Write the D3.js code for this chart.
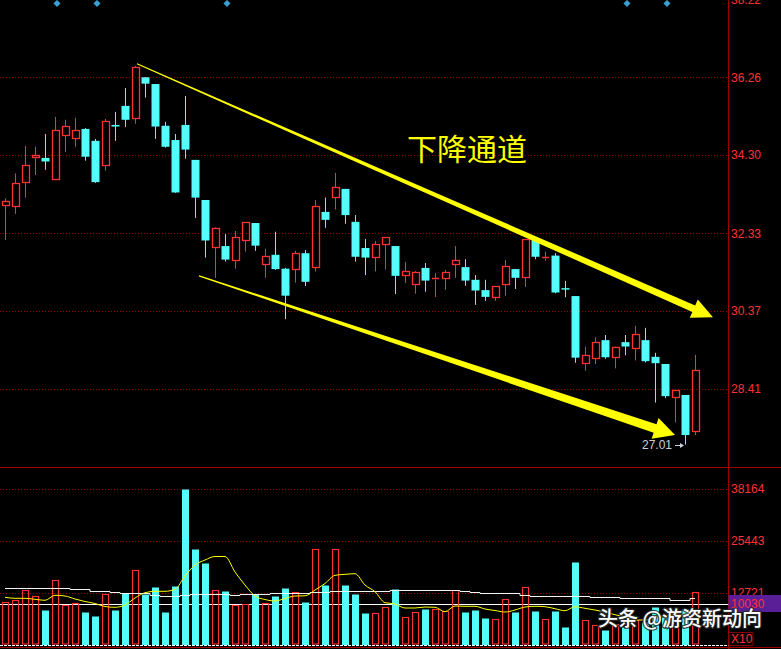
<!DOCTYPE html>
<html><head><meta charset="utf-8">
<script src="https://cdn.jsdelivr.net/npm/d3@7/dist/d3.min.js"></script>
<style>
html,body{margin:0;padding:0;background:#000;overflow:hidden;}
svg{display:block;}
</style></head>
<body><svg id="c" width="781" height="649"></svg>
<script>
// ---- data ----
const open  = [33.05,33.03,33.63,34.25,34.23,33.71,34.80,34.74,34.96,34.66,34.06,35.06,35.54,35.23,36.26,36.09,35.04,34.68,35.06,34.18,
               33.17,31.98,32.01,31.65,32.16,32.59,31.55,31.79,31.44,31.44,31.83,31.49,32.87,33.24,33.45,32.62,31.96,31.73,32.05,32.01,
               31.27,31.05,31.46,31.18,31.20,31.55,31.48,31.16,30.90,30.72,31.05,31.43,31.22,32.16,31.70,31.77,30.95,30.75,29.07,29.20,
               29.64,29.22,29.59,29.44,29.64,29.22,29.04,28.20,28.26,27.36];
const high  = [33.21,33.84,34.53,34.51,34.83,35.26,35.19,35.24,34.98,34.71,35.21,35.39,35.99,36.55,36.26,36.09,35.14,34.83,35.79,34.18,
               33.17,32.48,32.31,32.39,32.61,32.59,31.94,32.37,31.46,31.89,31.91,33.17,33.23,33.85,33.45,32.79,32.19,32.14,32.23,32.01,
               31.61,31.38,31.58,31.33,31.41,32.01,31.68,31.28,31.16,31.00,31.66,31.43,32.18,32.21,31.87,31.83,31.13,30.75,29.47,29.71,
               29.77,29.48,29.77,30.00,29.95,29.32,29.04,28.38,28.26,29.27];
const low   = [32.16,32.82,33.23,33.80,33.93,33.69,34.38,34.51,34.16,33.60,33.91,34.66,35.01,35.09,35.75,34.71,34.49,33.35,34.21,32.72,
               31.72,31.21,31.62,31.44,31.87,31.89,31.21,31.41,30.17,31.09,31.00,31.37,32.47,32.93,32.57,31.62,31.28,31.37,31.42,30.80,
               31.08,30.81,30.86,30.73,30.91,31.21,31.01,30.53,30.63,30.63,30.76,30.93,30.98,31.68,31.64,30.82,30.72,29.07,28.87,29.04,
               29.17,28.93,29.26,29.13,29.08,28.07,28.18,27.57,27.01,27.25];
const close = [33.15,33.59,34.05,34.30,34.14,34.93,35.03,34.93,34.26,33.62,35.16,35.02,35.19,36.52,36.10,35.02,34.51,33.36,34.44,33.23,
               32.15,32.46,31.67,32.23,32.61,32.02,31.77,31.43,30.76,31.83,31.11,33.01,32.67,33.49,32.79,31.74,31.72,32.05,32.23,31.26,
               31.37,31.35,31.14,31.21,31.35,31.66,31.14,30.89,30.73,31.00,31.50,31.21,32.18,31.74,31.74,30.84,30.92,29.20,29.27,29.59,
               29.21,29.48,29.48,29.79,29.11,29.06,28.23,28.38,27.25,28.88];
const volume = [10444,10934,13380,11912,8561,15826,9711,10200,8072,7093,12401,8561,12646,18272,12401,14187,8072,14431,38164,23482,
                20057,13380,13208,9711,9955,12401,10200,11985,13942,12890,10518,23408,14676,23408,14676,12475,7827,7754,9295,13698,
                6849,7998,8806,8732,8316,13380,8072,8561,6604,6360,11252,8145,14187,8316,6360,8316,4476,20375,6115,4892,
                3669,5137,4476,6115,5699,9368,6922,7827,8806,12890];
const maLong = [14016,14016,14016,14016,14016,14016,14016,13624,13624,13135,13135,12890,12646,12646,12646,12157,11912,11912,12157,12475,
                12475,12475,12475,12157,12597,12597,12597,12646,12646,12646,12646,12890,12890,13135,13135,13135,13135,13135,13135,13453,
                13453,13453,13453,13453,13453,13453,13135,12890,12646,12646,12646,12646,12230,11985,11985,11985,11985,11985,11985,11668,
                11668,11668,11423,11423,11423,11423,11423,11007,11007,11423];
const maShort = [11667,11423,11423,11178,10934,12157,11985,11252,10640,10151,9417,9221,9784,11496,12793,13135,13135,13624,16878,19568,
                 20791,21647,21647,17856,14676,11985,11129,10762,11374,11985,12034,13453,15043,17049,17293,17440,14676,13037,10347,10029,
                 9050,9050,9295,9221,8145,9539,9466,9466,8806,8439,8072,8561,9295,9466,9368,8879,8390,9368,8977,8561,
                 8072,7411,6849,6115,6115,6849,7093,7338,7583];
const priceTicks = [38.22, 36.26, 34.30, 32.33, 30.37, 28.41];
const volTicks = [38164, 25443, 12721];
const markVolume = 10030;
const lowLabel = "27.01";
const markerIdx = [5, 9, 22, 62, 66];
const title = "下降通道";
const watermark = "头条 @游资新动向";
// channel arrows: [startIndex, startPrice, tipIndex, tipPrice]
const upperArrow = [13.2, 36.60, 70.8, 30.22];
const lowerArrow = [19.4, 31.26, 67.0, 27.25];

// ---- layout ----
const W = 781, H = 649, AX = 728.5;
const RED = "#ff3232", CYAN = "#54fcfc", GRID = "#8a0000";
const svg = d3.select("#c");
svg.append("rect").attr("width", W).attr("height", H).attr("fill", "#000");

const n = close.length;
const x = d3.scaleLinear().domain([0, n - 1]).range([5, 695]);
const y = d3.scaleLinear().domain([28.41, 36.26]).range([389, 77.3]);
const yv = d3.scaleLinear().domain([0, 38164]).range([645, 489]);

const px = v => Math.round(v) + 0.5;

// gridlines
const g = svg.append("g");
g.selectAll(".pg").data(priceTicks.slice(1)).join("line")
  .attr("x1", 0).attr("x2", AX).attr("y1", d => px(y(d))).attr("y2", d => px(y(d)))
  .attr("stroke", GRID).attr("stroke-dasharray", "1,2");
g.selectAll(".vg").data(volTicks).join("line")
  .attr("x1", 0).attr("x2", AX).attr("y1", d => px(yv(d))).attr("y2", d => px(yv(d)))
  .attr("stroke", GRID).attr("stroke-dasharray", "1,2");

// axis lines
svg.append("line").attr("x1", AX).attr("x2", AX).attr("y1", 0).attr("y2", H).attr("stroke", "#a00000");
svg.append("line").attr("x1", 0).attr("x2", W).attr("y1", 467.5).attr("y2", 467.5).attr("stroke", "#a00000");
svg.append("line").attr("x1", 0).attr("x2", AX).attr("y1", 645.5).attr("y2", 645.5).attr("stroke", "#ffffff").attr("stroke-dasharray","3,1");
svg.append("line").attr("x1", 0).attr("x2", W).attr("y1", 647.5).attr("y2", 647.5).attr("stroke", "#a00000");

// axis labels
const lab = svg.append("g").attr("font-family", "'Liberation Sans', Arial, sans-serif").attr("font-size", 12).attr("fill", RED);
lab.selectAll(".pt").data(priceTicks).join("text")
  .attr("x", 731).attr("y", d => y(d)).attr("dy", "0.36em").text(d => d.toFixed(2));
lab.selectAll(".vt").data(volTicks).join("text")
  .attr("x", 731).attr("y", d => yv(d)).attr("dy", "0.36em").text(d => d);

// markers on top
svg.selectAll(".mk").data(markerIdx).join("rect")
  .attr("x", -2.5).attr("y", -2.5).attr("width", 5).attr("height", 5)
  .attr("fill", "#3aa0d0")
  .attr("transform", d => `translate(${x(d) + 2},3.5) rotate(45)`);

// candles
const cg = svg.append("g");
d3.range(n).forEach(i => {
  const cx = x(i) + 0.5;
  const up = close[i] >= open[i];
  const col = up ? RED : CYAN;
  const yt = y(Math.max(open[i], close[i])), yb = y(Math.min(open[i], close[i]));
  const yh = y(high[i]), yl = y(low[i]);
  if (up) {
    const t = Math.round(yt) + 0.5, b = Math.round(yb) + 0.5;
    cg.append("line").attr("x1", cx).attr("x2", cx).attr("y1", yh).attr("y2", t).attr("stroke", col);
    cg.append("line").attr("x1", cx).attr("x2", cx).attr("y1", b).attr("y2", yl).attr("stroke", col);
    if (b - t < 1.5) {
      cg.append("line").attr("x1", cx - 3.5).attr("x2", cx + 3.5).attr("y1", t).attr("y2", t).attr("stroke", col).attr("stroke-width", 1.5);
    } else {
      cg.append("rect").attr("x", cx - 3).attr("y", t).attr("width", 7).attr("height", b - t)
        .attr("fill", "none").attr("stroke", col).attr("stroke-width", 1.3);
    }
  } else {
    cg.append("line").attr("x1", cx).attr("x2", cx).attr("y1", yh).attr("y2", yl).attr("stroke", col);
    const hgt = Math.max(1.5, yb - yt);
    cg.append("rect").attr("x", cx - 4).attr("y", yt).attr("width", 8).attr("height", hgt).attr("fill", col);
  }
});

// volume: mark line
svg.append("line").attr("x1", 0).attr("x2", AX).attr("y1", px(yv(markVolume))).attr("y2", px(yv(markVolume)))
  .attr("stroke", "#ffffff");

const vg = svg.append("g");
d3.range(n).forEach(i => {
  const cx = x(i) + 0.5;
  const up = close[i] >= open[i];
  const top = Math.round(yv(volume[i])) + 0.5;
  if (up) {
    vg.append("rect").attr("x", cx - 3).attr("y", top).attr("width", 6).attr("height", 644 - top)
      .attr("fill", "none").attr("stroke", RED).attr("stroke-width", 1.1);
  } else {
    vg.append("rect").attr("x", cx - 3.5).attr("y", top).attr("width", 7).attr("height", 645 - top).attr("fill", CYAN);
  }
});

// MA lines
svg.append("path").datum(maLong)
  .attr("d", d3.line().x((d, i) => x(i)).y(d => px(yv(d))).curve(d3.curveStep))
  .attr("fill", "none").attr("stroke", "#f4f4f4").attr("stroke-width", 1);
svg.append("path").datum(maShort)
  .attr("d", d3.line().x((d, i) => x(i)).y(d => yv(d)).curve(d3.curveMonotoneX))
  .attr("fill", "none").attr("stroke", "#ffff00").attr("stroke-width", 1);

// volume mark label box
svg.append("rect").attr("x", AX).attr("y", 595).attr("width", W - AX).attr("height", 17).attr("fill", "#5a1e96");
svg.append("text").attr("x", 731).attr("y", yv(markVolume)).attr("dy", "0.36em")
  .attr("font-family", "'Liberation Sans', Arial, sans-serif").attr("font-size", 12).attr("fill", RED).text(markVolume);
svg.append("rect").attr("x", AX + 0.5).attr("y", 632.5).attr("width", 24).attr("height", 13)
  .attr("fill", "none").attr("stroke", "#800000");
svg.append("text").attr("x", 731).attr("y", 639).attr("dy", "0.36em")
  .attr("font-family", "'Liberation Sans', Arial, sans-serif").attr("font-size", 12).attr("fill", RED).text("X10");

// channel arrows
function arrow(a, w0, w1, hl, hw) {
  const x0 = x(a[0]), y0 = y(a[1]), x1 = x(a[2]), y1 = y(a[3]);
  const dx = x1 - x0, dy = y1 - y0, L = Math.hypot(dx, dy);
  const ux = dx / L, uy = dy / L, nx = -uy, ny = ux;
  const bx = x1 - ux * hl, by = y1 - uy * hl;
  const pts = [
    [x0 + nx * w0 / 2, y0 + ny * w0 / 2],
    [bx + nx * w1 / 2, by + ny * w1 / 2],
    [bx + nx * hw, by + ny * hw],
    [x1, y1],
    [bx - nx * hw, by - ny * hw],
    [bx - nx * w1 / 2, by - ny * w1 / 2],
    [x0 - nx * w0 / 2, y0 - ny * w0 / 2]
  ];
  svg.append("polygon").attr("points", pts.map(p => p.join(",")).join(" ")).attr("fill", "#ffff00");
}
arrow(upperArrow, 1, 7, 21, 10);
arrow(lowerArrow, 1.2, 9, 21, 11);

// title
svg.append("text").attr("x", 407).attr("y", 160)
  .attr("font-family", "'Noto Sans CJK SC', sans-serif").attr("font-size", 30).attr("fill", "#ffff00")
  .text(title);

// low label
const lx = x(68), ly = y(27.01);
svg.append("text").attr("x", lx - 13).attr("y", ly).attr("dy", "0.36em").attr("text-anchor", "end")
  .attr("font-family", "'Liberation Sans', Arial, sans-serif").attr("font-size", 12).attr("fill", "#c8d0dc").text(lowLabel);
svg.append("line").attr("x1", lx - 10).attr("x2", lx - 2).attr("y1", Math.round(ly) + 0.5).attr("y2", Math.round(ly) + 0.5).attr("stroke", "#c8d0dc");
svg.append("path").attr("d", `M${lx - 1},${Math.round(ly) + 0.5} l-4,-2.5 l0,5 z`).attr("fill", "#c8d0dc");

// watermark
svg.append("text").attr("x", 598).attr("y", 626)
  .attr("font-family", "'Noto Sans CJK SC', sans-serif").attr("font-size", 20).attr("font-weight", 500).attr("fill", "#ffffff")
  .attr("stroke", "rgba(40,40,40,0.85)").attr("stroke-width", 2.5).attr("paint-order", "stroke")
  .text(watermark);
</script></body></html>
